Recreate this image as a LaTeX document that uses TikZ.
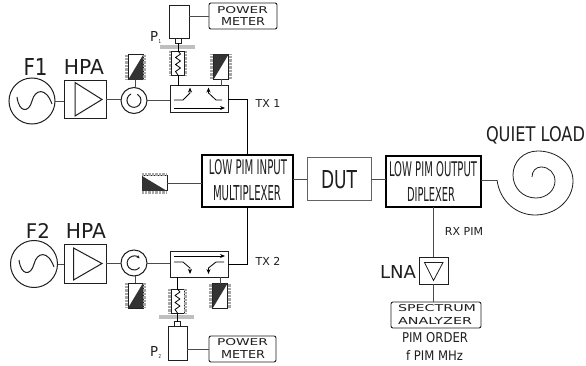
\documentclass[tikz,border=0pt]{standalone}
\usepackage{graphicx}
\usepackage{fontspec}
\setmainfont{DejaVu Sans}
\usetikzlibrary{arrows.meta,calc}
\newcommand{\fitT}[3]{\resizebox{#1pt}{#2pt}{#3}}
\definecolor{ink}{gray}{0.12}
\definecolor{darkfill}{gray}{0.2}
\tikzset{
  lab/.style={inner sep=0pt,outer sep=0pt,text=ink},
  box/.style={draw=ink,line width=1pt,fill=white,inner sep=0pt,outer sep=0pt},
  bigbox/.style={box,line width=1.3pt,draw=black},
  meter/.style={box,rounded corners=2pt,line width=0.9pt},
  wire/.style={draw=ink!80,line width=0.9pt},
  thin wire/.style={draw=black,line width=0.8pt},
  ring/.style={circle,draw=ink,line width=1pt,fill=white,inner sep=0pt,outer sep=0pt},
  grayhatch/.style={draw=gray!70,line width=3pt,dash pattern=on 0.7pt off 0.7pt},
  graybar/.style={fill=gray!50,draw=none,inner sep=0pt,outer sep=0pt,minimum height=3.2pt},
  arw/.style={line width=0.8pt,draw=black,-{Stealth[length=5pt,width=4pt]}},
}
\newcommand{\vload}[4]{% name, x, y, 0: dark lower-right / 1: dark upper-left
  \node[box,minimum width=15pt,minimum height=25pt] (#1) at (#2,#3) {};
  \draw[grayhatch] ($(#1.north west)+(-1.6,0)$) -- ($(#1.south west)+(-1.6,0)$);
  \draw[grayhatch] ($(#1.north east)+(1.6,0)$) -- ($(#1.south east)+(1.6,0)$);
  \ifnum#4=0
    \fill[darkfill] (#1.south west) -- (#1.north east) -- (#1.south east) -- cycle;
  \else
    \fill[darkfill] (#1.south west) -- (#1.north east) -- (#1.north west) -- cycle;
  \fi
}
\newcommand{\atten}[3]{% name, x, y
  \node[box,line width=0.8pt,minimum width=13pt,minimum height=24pt] (#1) at (#2,#3) {};
  \draw[grayhatch,line width=2.6pt] ($(#1.north west)+(-1.4,0)$) -- ($(#1.south west)+(-1.4,0)$);
  \draw[grayhatch,line width=2.6pt] ($(#1.north east)+(1.4,0)$) -- ($(#1.south east)+(1.4,0)$);
  \draw[line width=0.8pt,black,line join=round] (#1.north)
    -- ++(2.5,3) -- ++(-5,3.5) -- ++(5,3.5) -- ++(-5,3.5) -- ++(5,3.5) -- ++(-5,3.5) -- (#1.south);
}
\newcommand{\sinewave}[1]{% centre node
  \draw[line width=1pt,ink] ($(#1)+(-15,-4)$) .. controls ($(#1)+(-13,12)$) and ($(#1)+(-3,12)$) .. ($(#1)$)
     .. controls ($(#1)+(3,-12)$) and ($(#1)+(14,-14)$) .. ($(#1)+(20,3)$);
}
\begin{document}
\begin{tikzpicture}[x=1pt,y=-1pt]
\useasboundingbox (0,0) rectangle (586,366);
\fill[white] (0,0) rectangle (586,366);

% ---- central blocks
\node[bigbox,minimum width=91pt,minimum height=52pt] (mux) at (247.5,181) {};
\node[box,draw=ink!70,minimum width=64pt,minimum height=43pt] (dut) at (339,179.5) {};
\node[bigbox,minimum width=95pt,minimum height=51pt] (dip) at (433.5,181.5) {};
\node[lab] at (248,167) {\fitT{78}{15}{LOW PIM INPUT}};
\node[lab] at (247,193) {\fitT{68}{15}{MULTIPLEXER}};
\node[lab] at (339,179.5) {\fitT{36}{18}{DUT}};
\node[lab] at (433,169) {\fitT{88}{15}{LOW PIM OUTPUT}};
\node[lab] at (431,195) {\fitT{48}{14}{DIPLEXER}};
\draw[wire] (mux.east |- dut.west) -- (dut.west);
\draw[wire] (dut.east) -- (dut.east -| dip.west);

% ---- top chain
\node[ring,minimum size=46pt] (f1) at (32,101) {};
\sinewave{f1}
\node[box,minimum width=42pt,minimum height=38pt] (hpa1) at (85,99.5) {};
\draw[line width=1pt,ink] (75,82.5) -- (102,99.5) -- (75,116) -- cycle;
\node[ring,minimum size=26pt] (circ1) at (134,100.5) {};
\draw[line width=1pt,ink] (circ1)+(-3,-6.5) arc[start angle=245,end angle=-60,radius=7];
\node[box,minimum width=58pt,minimum height=27pt] (coup1) at (199,99.5) {};
\vload{l1a}{135.5}{67.5}{0}
\vload{l1b}{221}{67}{1}
\atten{at1}{178}{63}
\node[graybar,minimum width=35pt] (bar1) at (177.5,47) {};
\node[box,line width=0.8pt,minimum width=6pt,minimum height=5pt] (con1) at (178,41) {};
\node[box,minimum width=20pt,minimum height=33pt] (sen1) at (179,22) {};
\node[meter,minimum width=68pt,minimum height=26pt] (pm1) at (243,16) {};
\node[lab] at (242.5,10.5) {\fitT{51}{7}{POWER}};
\node[lab] at (243,22) {\fitT{44}{8}{METER}};
\node[lab] at (35.5,67) {\fitT{24}{17}{F1}};
\node[lab] at (84,67) {\fitT{40}{15}{HPA}};
\node[lab,anchor=base west] (p1) at (150,42) {\fitT{8}{10}{P}};
\node[lab,anchor=base west] at (158.5,44) {\fitT{2.5}{4}{1}};
\node[lab,anchor=base] at (268,107.5) {\fontsize{11}{11}\selectfont TX 1};

\draw[wire] (f1.east) -- (f1.east -| hpa1.west);
\draw[wire] (hpa1.east) -- (hpa1.east -| circ1.west);
\draw[wire] (circ1.east) -- (circ1.east -| coup1.west);
\draw[wire] (l1a.south) -- (l1a.south |- circ1.north);
\draw[wire] (l1b.south) -- (l1b.south |- coup1.north);
\draw[thin wire] (at1.south) -- (at1.south |- coup1.north);
\draw[thin wire] (at1.north) -- (con1.south);
\draw[wire] (sen1.east |- pm1.west) -- (pm1.west);
\draw[thin wire] (coup1.east) -- (coup1.east -| mux.north) -- (mux.north);

\draw[arw] (174,108) -- (225,108);
\draw[arw] (174,100) -- (183,100) -- (190,93) -- (190,87.5);
\draw[arw] (222,100) -- (216,100) -- (208.5,93) -- (208.5,87.5);

% ---- bottom chain
\node[ring,minimum size=47pt] (f2) at (34,264) {};
\sinewave{f2}
\node[box,minimum width=42pt,minimum height=39pt] (hpa2) at (85,263.5) {};
\draw[line width=1pt,ink] (73.5,248) -- (102,263.5) -- (73.5,280) -- cycle;
\node[ring,minimum size=26pt] (circ2) at (134,263) {};
\draw[line width=1pt,ink,{Stealth[length=3pt,width=3pt]}-] (circ2)+(5.5,-4.5) arc[start angle=320,end angle=40,radius=7];
\node[box,minimum width=58pt,minimum height=26pt] (coup2) at (199,264) {};
\vload{l2a}{135.5}{295.5}{0}
\vload{l2b}{220}{296}{1}
\atten{at2}{177.5}{301}
\node[graybar,minimum width=35pt] (bar2) at (176.5,317) {};
\node[box,line width=0.8pt,minimum width=6pt,minimum height=5pt] (con2) at (177.5,324) {};
\node[box,minimum width=19pt,minimum height=34pt] (sen2) at (177.5,343) {};
\node[meter,minimum width=67pt,minimum height=26pt] (pm2) at (242.5,349) {};
\node[lab] at (242.5,342.5) {\fitT{51}{7}{POWER}};
\node[lab] at (243,354.5) {\fitT{44}{8}{METER}};
\node[lab] at (38,230.5) {\fitT{24}{15}{F2}};
\node[lab] at (86,230.5) {\fitT{40}{15}{HPA}};
\node[lab,anchor=base west] (p2) at (150,356) {\fitT{8}{10}{P}};
\node[lab,anchor=base west] at (158.5,358) {\fitT{2.5}{4}{2}};
\node[lab,anchor=base] at (268,265.5) {\fontsize{11}{11}\selectfont TX 2};

\draw[wire] (f2.east) -- (f2.east -| hpa2.west);
\draw[wire] (hpa2.east) -- (hpa2.east -| circ2.west);
\draw[wire] (circ2.east) -- (circ2.east -| coup2.west);
\draw[wire] (l2a.north) -- (l2a.north |- circ2.south);
\draw[wire] (l2b.north) -- (l2b.north |- coup2.south);
\draw[thin wire] (at2.north) -- (at2.north |- coup2.south);
\draw[thin wire] (at2.south) -- (con2.north);
\draw[wire] (sen2.east |- pm2.west) -- (pm2.west);
\draw[thin wire] (coup2.east) -- (coup2.east -| mux.south) -- (mux.south);

\draw[arw] (174,256) -- (225,256);
\draw[arw] (174,262) -- (183,262) -- (190,268) -- (190,274);
\draw[arw] (224,262) -- (216,262) -- (208.5,268) -- (208.5,274);

% ---- mux load
\node[box,minimum width=25pt,minimum height=15pt] (l3) at (154.5,183.5) {};
\draw[grayhatch] ($(l3.north west)+(0,-1.6)$) -- ($(l3.north east)+(0,-1.6)$);
\draw[grayhatch] ($(l3.south west)+(0,1.6)$) -- ($(l3.south east)+(0,1.6)$);
\fill[darkfill] (l3.north west) -- (l3.south east) -- (l3.south west) -- cycle;
\draw[wire] (l3.east) -- (l3.east -| mux.west);

% ---- quiet load
\node[lab] at (535.5,135.5) {\fitT{99}{15}{QUIET LOAD}};
\coordinate (spstart) at (497,180);
\draw[wire] (dip.east |- spstart) -- (spstart);
\draw[line width=0.8pt,ink] (spstart) .. controls (500,202) and (517,215) .. (535,215)
  .. controls (556,215) and (573,200) .. (573,181)
  .. controls (573,163) and (556,151) .. (538,151)
  .. controls (523,151) and (513,162) .. (513,175)
  .. controls (513,188) and (523,198) .. (536,198)
  .. controls (547,198) and (555,190) .. (555,181)
  .. controls (555,173) and (549,167) .. (541,167)
  .. controls (536,167) and (532,171) .. (532,177);

% ---- receive chain
\node[box,minimum width=29pt,minimum height=27pt] (lna) at (433.5,270.5) {};
\draw[line width=0.8pt,ink] (424.5,262.5) -- (443,262.5) -- (433.5,280.5) -- cycle;
\node[meter,minimum width=90pt,minimum height=26pt] (sa) at (436,315) {};
\draw[wire] (dip.south -| lna.north) -- (lna.north);
\draw[wire] (lna.south) -- (lna.south |- sa.north);
\node[lab] at (398,271.5) {\fitT{36}{13}{LNA}};
\node[lab,anchor=base] at (464,235) {\fontsize{11}{11}\selectfont RX PIM};
\node[lab] at (437,308.5) {\fitT{78}{7}{SPECTRUM}};
\node[lab] at (435,320.5) {\fitT{74}{7}{ANALYZER}};
\node[lab] at (435,338) {\fitT{66}{10}{PIM ORDER}};
\node[lab] at (434.5,355) {\fitT{57}{10}{f PIM MHz}};
\end{tikzpicture}
\end{document}
